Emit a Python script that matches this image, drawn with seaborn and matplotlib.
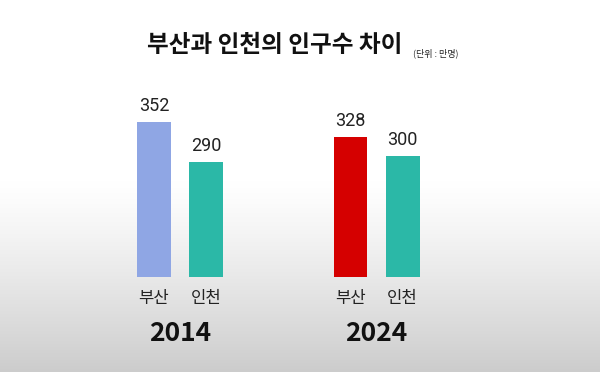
import numpy as np
import pandas as pd
import seaborn as sns
import matplotlib.pyplot as plt

years = ["2014", "2024"]
cities = ["부산", "인천"]
busan = [352, 328]
incheon = [290, 300]
bar_colors = {("2014", "부산"): "#8fa6e4", ("2014", "인천"): "#2bb8a7",
              ("2024", "부산"): "#d50000", ("2024", "인천"): "#2bb8a7"}

df = pd.DataFrame({
    "year": years + years,
    "city": ["부산"] * 2 + ["인천"] * 2,
    "pop": busan + incheon,
})

sns.set_theme(style="white")
plt.rcParams['font.family'] = ['Noto Sans CJK KR', 'DejaVu Sans']

fig = plt.figure(figsize=(6, 3.72), dpi=100)

# background gradient (white top, grey bottom)
bg = fig.add_axes([0, 0, 1, 1], zorder=-1)
g = np.ones((372, 1))
rows = np.arange(372)
g[:, 0] = np.where(rows < 180, 1.0, 1.0 - 0.2 * ((rows - 180) / 192.0) ** 1.2)
bg.imshow(np.dstack([g, g, g]), aspect="auto", extent=[0, 1, 0, 1])
bg.axis("off")

ax = fig.add_axes([0, 95 / 372, 1, 220 / 372])
ax.patch.set_alpha(0)
sns.barplot(data=df, x="year", y="pop", hue="city", order=years, hue_order=cities,
            width=0.53, gap=0.35, dodge=True, legend=False, ax=ax, saturation=1)

for cont, city in zip(ax.containers, cities):
    for patch, yr in zip(cont.patches, years):
        patch.set_facecolor(bar_colors[(yr, city)])
        patch.set_edgecolor("none")
        cx = patch.get_x() + patch.get_width() / 2
        ax.annotate(city, (cx, 0), xycoords=("data", "axes fraction"),
                    xytext=(0, -21), textcoords="offset pixels",
                    ha="center", va="center", fontsize=12, fontweight="medium",
                    color="#222222")
    ax.bar_label(cont, fmt="%d", padding=5, fontsize=13, color="#222222",
                 family=["Roboto", "DejaVu Sans"])

ax.set_xlim(-0.916, 2.137)
ax.set_ylim(115, 115 + 220 / 0.656)
ax.set_xticks([0, 1])
ax.set_xticklabels(years, fontsize=19, fontweight="bold", color="#111111")
ax.tick_params(axis="x", length=0, pad=31)
ax.set_yticks([])
ax.set_xlabel("")
ax.set_ylabel("")
sns.despine(ax=ax, left=True, bottom=True)

fig.text(275 / 600, 1 - 45 / 372, "부산과 인천의 인구수 차이", ha="center", va="center",
         fontsize=17, fontweight="black", color="#111111")
fig.text(413 / 600, 1 - 53 / 372, "(단위 : 만명)", ha="left", va="center",
         fontsize=6.5, color="#222222")

fig.savefig("out.png", dpi=100)
